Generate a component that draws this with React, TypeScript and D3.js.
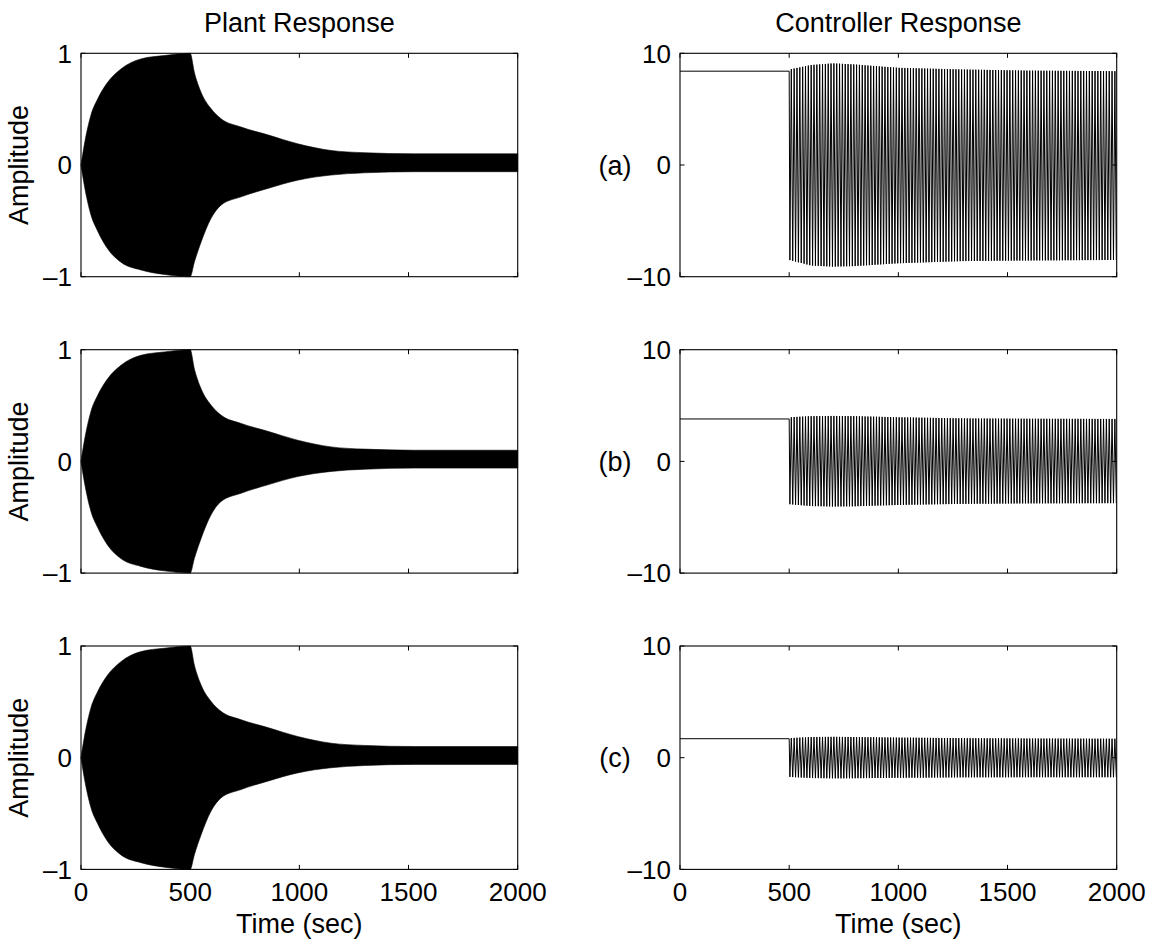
import React from "react";
import * as d3 from "d3";

// ---------- data ----------
const timeTicks = [0, 500, 1000, 1500, 2000];
const plantYTicks = [-1, 0, 1];
const ctrlYTicks = [-10, 0, 10];
const rowLabels = ["(a)", "(b)", "(c)"];

// Plant response envelope (same shape in all three cases)
const plantTime = [0, 15, 46, 76, 122, 183, 275, 382, 500, 519, 550, 595, 641, 733, 855, 992, 1145, 1298, 1527, 2000];
const plantUpper = [0, 0.18, 0.45, 0.59, 0.74, 0.86, 0.95, 0.98, 1.0, 0.83, 0.65, 0.505, 0.415, 0.34, 0.27, 0.19, 0.13, 0.11, 0.1, 0.1];
const plantLower = [0, -0.18, -0.45, -0.59, -0.75, -0.87, -0.94, -0.98, -1.0, -0.87, -0.69, -0.48, -0.36, -0.285, -0.21, -0.136, -0.09, -0.07, -0.06, -0.06];

// Controller response: constant hold before t=500, then oscillation envelope
const ctrlSwitchTime = 500;
const ctrlPeriod = 13;
const ctrlTime = [500, 600, 700, 800, 1000, 1300, 1600, 2000];
const ctrlAHold = 8.4;
const ctrlAUpper = [8.55, 8.95, 9.1, 9.0, 8.7, 8.55, 8.45, 8.4];
const ctrlALower = [-8.5, -9.0, -9.1, -9.05, -8.8, -8.6, -8.55, -8.5];
const ctrlBHold = 3.8;
const ctrlBUpper = [3.95, 4.05, 4.07, 4.05, 3.95, 3.85, 3.82, 3.8];
const ctrlBLower = [-3.83, -4.0, -4.04, -4.02, -3.9, -3.8, -3.76, -3.74];
const ctrlCHold = 1.7;
const ctrlCUpper = [1.75, 1.85, 1.87, 1.85, 1.8, 1.75, 1.72, 1.7];
const ctrlCLower = [-1.72, -1.82, -1.85, -1.84, -1.8, -1.76, -1.75, -1.75];

const ctrlCases = [
  { hold: ctrlAHold, upper: ctrlAUpper, lower: ctrlALower },
  { hold: ctrlBHold, upper: ctrlBUpper, lower: ctrlBLower },
  { hold: ctrlCHold, upper: ctrlCUpper, lower: ctrlCLower },
];

// ---------- layout ----------
const W = 1154;
const H = 943;
const colX = [81, 680];
const panelW = 436.7;
const rowY = [53.3, 349.7, 646];
const panelH = 223.4;
const FONT = "'Liberation Sans', Arial, Helvetica, sans-serif";
const FS = 27;
const TFS = 26;
const TICK = 4.5;

function fmt(v: number) {
  return v < 0 ? "\u2013" + Math.abs(v) : String(v);
}

function Frame({ x, y, yTicks, yDomain, showX }: any) {
  const xs = d3.scaleLinear().domain([0, 2000]).range([x, x + panelW]);
  const ys = d3.scaleLinear().domain(yDomain).range([y + panelH, y]);
  return (
    <g>
      <rect x={x} y={y} width={panelW} height={panelH} fill="none" stroke="#000" strokeWidth={1.1} />
      {timeTicks.map((t) => (
        <g key={"xt" + t}>
          <line x1={xs(t)} x2={xs(t)} y1={y + panelH} y2={y + panelH - TICK} stroke="#000" strokeWidth={1} />
          <line x1={xs(t)} x2={xs(t)} y1={y} y2={y + TICK} stroke="#000" strokeWidth={1} />
          {showX && (
            <text x={xs(t)} y={y + panelH + 32} textAnchor="middle" fontSize={TFS} fontFamily={FONT}>
              {t}
            </text>
          )}
        </g>
      ))}
      {yTicks.map((v: number) => (
        <g key={"yt" + v}>
          <line x1={x} x2={x + TICK} y1={ys(v)} y2={ys(v)} stroke="#000" strokeWidth={1} />
          <line x1={x + panelW} x2={x + panelW - TICK} y1={ys(v)} y2={ys(v)} stroke="#000" strokeWidth={1} />
          <text x={x - 9} y={ys(v) + 9.3} textAnchor="end" fontSize={TFS} fontFamily={FONT}>
            {fmt(v)}
          </text>
        </g>
      ))}
    </g>
  );
}

function PlantPanel({ row }: { row: number }) {
  const x = colX[0];
  const y = rowY[row];
  const xs = d3.scaleLinear().domain([0, 2000]).range([x, x + panelW]);
  const ys = d3.scaleLinear().domain([-1, 1]).range([y + panelH, y]);
  const area = d3
    .area<number>()
    .x((_, i) => xs(plantTime[i]))
    .y0((_, i) => ys(plantLower[i]))
    .y1((_, i) => ys(plantUpper[i]))
    .curve(d3.curveMonotoneX);
  return (
    <g>
      <path d={area(plantTime) || ""} fill="#000" stroke="#000" strokeWidth={0.6} />
      <Frame x={x} y={y} yTicks={plantYTicks} yDomain={[-1, 1]} showX={row === 2} />
      <text
        transform={`translate(${x - 53},${y + panelH / 2}) rotate(-90)`}
        textAnchor="middle"
        fontSize={FS}
        fontFamily={FONT}
      >
        Amplitude
      </text>
    </g>
  );
}

function CtrlPanel({ row }: { row: number }) {
  const x = colX[1];
  const y = rowY[row];
  const c = ctrlCases[row];
  const xs = d3.scaleLinear().domain([0, 2000]).range([x, x + panelW]);
  const ys = d3.scaleLinear().domain([-10, 10]).range([y + panelH, y]);
  const up = d3.scaleLinear().domain(ctrlTime).range(c.upper);
  const lo = d3.scaleLinear().domain(ctrlTime).range(c.lower);
  const pts: [number, number][] = [
    [0, c.hold],
    [ctrlSwitchTime, c.hold],
  ];
  let k = 0;
  for (let t = ctrlSwitchTime + ctrlPeriod / 4; t <= 2000; t += ctrlPeriod / 2, k++) {
    pts.push([t, k % 2 === 0 ? lo(t) : up(t)]);
  }
  const line = d3
    .line<[number, number]>()
    .x((d) => xs(d[0]))
    .y((d) => ys(d[1]));
  return (
    <g>
      <clipPath id={"clip" + row}>
        <rect x={x} y={y} width={panelW} height={panelH} />
      </clipPath>
      <path d={line(pts) || ""} fill="none" stroke="#000" strokeWidth={1} clipPath={`url(#clip${row})`} />
      <Frame x={x} y={y} yTicks={ctrlYTicks} yDomain={[-10, 10]} showX={row === 2} />
      <text x={615} y={y + panelH / 2 + 9.5} textAnchor="middle" fontSize={FS} fontFamily={FONT}>
        {rowLabels[row]}
      </text>
    </g>
  );
}

export default function App() {
  return (
    <svg width={W} height={H} style={{ position: "absolute", left: 0, top: 0, background: "#fff" }}>
      <rect width={W} height={H} fill="#fff" />
      <text x={colX[0] + panelW / 2} y={32} textAnchor="middle" fontSize={FS} fontFamily={FONT}>
        Plant Response
      </text>
      <text x={colX[1] + panelW / 2} y={32} textAnchor="middle" fontSize={FS} fontFamily={FONT}>
        Controller Response
      </text>
      {[0, 1, 2].map((r) => (
        <PlantPanel key={"p" + r} row={r} />
      ))}
      {[0, 1, 2].map((r) => (
        <CtrlPanel key={"c" + r} row={r} />
      ))}
      <text x={colX[0] + panelW / 2} y={933} textAnchor="middle" fontSize={FS} fontFamily={FONT}>
        Time (sec)
      </text>
      <text x={colX[1] + panelW / 2} y={933} textAnchor="middle" fontSize={FS} fontFamily={FONT}>
        Time (sec)
      </text>
    </svg>
  );
}
